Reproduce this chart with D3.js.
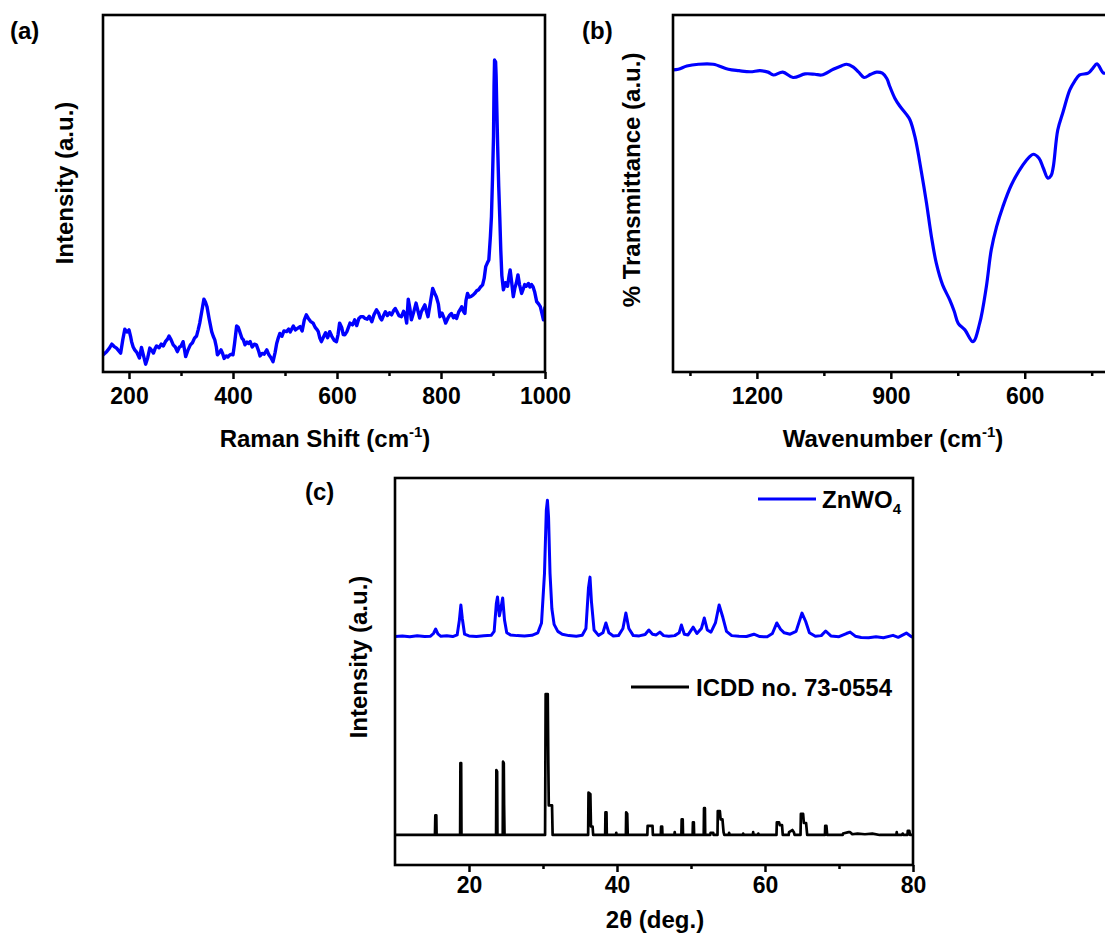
<!DOCTYPE html>
<html>
<head>
<meta charset="utf-8">
<script src="https://cdn.jsdelivr.net/npm/d3@7"></script>
<style>
  body { margin: 0; background: #fff; }
  svg { display: block; font-family: "Liberation Sans", Arial, sans-serif; font-weight: bold; }
  .tick text { font-size: 23px; font-weight: bold; fill: #000; font-family: "Liberation Sans", Arial, sans-serif; }
  .tick line { stroke: #000; stroke-width: 2.5; }
  .axis-label { font-size: 24px; font-weight: bold; fill: #000; }
  .panel-label { font-size: 24px; font-weight: bold; fill: #000; }
  .legend { font-size: 24px; font-weight: bold; fill: #000; }
</style>
</head>
<body>
<svg id="fig" width="1105" height="934"></svg>
<script>
// ---------- DATA ----------

// (a) Raman spectrum: [shift cm-1, intensity a.u.]
const ramanSpectrum = [
  [150,48],[157,57],[162,66],[167,78],[171,72],[176,67],[180,60],[184,53],[188,90],[192,120],
  [196,112],[200,118],[203,100],[205,85],[208,70],[211,62],[215,55],[220,39],[224,69],[228,45],
  [232,22],[236,40],[240,67],[244,60],[247,53],[250,65],[253,73],[258,68],[262,78],[266,73],
  [270,85],[274,92],[277,101],[281,90],[285,76],[289,70],[293,57],[297,70],[300,72],[304,85],
  [307,60],[309,43],[313,60],[318,76],[322,82],[326,95],[330,101],[333,118],[336,137],[340,170],
  [344,204],[347,196],[350,183],[354,150],[359,113],[362,100],[365,90],[368,70],[370,48],[374,55],
  [377,62],[380,52],[383,38],[387,45],[390,42],[394,48],[398,50],[400,48],[403,80],[407,129],
  [410,125],[413,113],[417,95],[420,90],[423,76],[427,84],[430,80],[433,85],[437,70],[441,78],
  [445,76],[449,60],[452,45],[456,52],[460,50],[465,62],[469,48],[473,40],[477,29],[481,55],
  [484,80],[487,95],[490,108],[494,100],[498,115],[503,113],[507,120],[510,112],[516,129],[520,118],
  [524,122],[529,127],[533,115],[537,145],[541,160],[545,150],[549,142],[554,137],[558,125],[562,118],
  [564,113],[567,95],[570,85],[574,98],[578,110],[582,96],[586,113],[590,100],[595,88],[599,85],
  [602,105],[605,137],[609,125],[612,105],[615,104],[619,113],[622,125],[625,137],[630,132],[634,146],
  [638,130],[642,150],[646,155],[650,155],[654,150],[658,148],[662,156],[667,141],[671,160],[676,174],
  [680,165],[683,152],[686,146],[690,160],[693,169],[697,158],[701,166],[705,160],[709,172],[712,178],
  [715,170],[719,158],[724,155],[728,170],[731,162],[734,137],[737,204],[740,180],[743,146],[747,165],
  [752,193],[755,175],[759,151],[762,168],[766,180],[769,188],[772,170],[775,155],[779,190],[784,234],
  [788,220],[791,211],[795,190],[798,155],[802,165],[806,150],[809,137],[813,150],[817,160],[820,164],
  [824,152],[827,158],[830,150],[834,168],[837,175],[840,183],[843,170],[846,164],[848,200],[851,220],
  [854,210],[858,212],[862,216],[866,222],[869,228],[872,230],[876,238],[880,244],[883,262],[886,295],
  [889,305],[892,314],[895,380],[897,435],[899,540],[901,660],[902,800],[903,874],[904,860],[905,869],
  [906,830],[907,760],[909,631],[911,520],[913,435],[915,340],[917,270],[920,230],[924,250],[928,240],
  [931,270],[933,286],[936,250],[939,211],[942,235],[945,250],[948,272],[951,245],[955,220],[958,232],
  [961,245],[964,240],[968,248],[971,238],[974,245],[977,239],[980,225],[984,197],[988,190],[991,183],
  [994,165],[997,146],[1000,183]
];
const ramanTicks = [200, 400, 600, 800, 1000];
const ramanMinorTicks = [300, 500, 700, 900];

// (b) FTIR spectrum: [wavenumber cm-1, transmittance a.u.]
const ftirSpectrum = [
  [1390,84.6],[1376,84.8],[1357,85.7],[1331,86.2],[1298,86.2],[1264,84.8],[1240,84.4],[1215,84.1],
  [1193,84.4],[1175,84.0],[1163,83.2],[1142,84.0],[1119,82.5],[1092,83.5],[1070,83.4],[1055,83.2],
  [1029,84.8],[1010,85.8],[999,86.2],[984,85.4],[972,84.0],[960,82.5],[945,83.4],[932,84.0],
  [919,83.7],[909,82.2],[902,79.9],[891,76.7],[880,74.5],[866,72.3],[857,70.6],[846,65.9],
  [831,55.7],[820,47.3],[809,37.9],[798,30.4],[784,24.4],[768,20.2],[758,17.0],[749,13.6],
  [734,11.8],[716,8.5],[701,13.6],[686,23.9],[675,34.2],[663,40.7],[649,46.3],[630,52.4],
  [604,58.0],[590,60.2],[581,61.0],[568,59.9],[558,57.0],[548,54.3],[541,55.0],[536,57.5],
  [526,67.8],[514,72.9],[499,79.0],[488,81.5],[477,83.2],[458,83.7],[448,85.0],[438,86.3],
  [423,83.7],[410,84.5]
];
const ftirTicks = [1200, 900, 600];
const ftirMinorTicks = [1350, 1050, 750, 450];

// (c) XRD of the sample: [2theta deg, intensity a.u.]
const xrdSample = [
  [10,0.3],[11,0.8],[12,0.2],[13,0.9],[14,0.4],[14.8,0.6],[15.2,2.5],[15.5,5.7],[15.8,2.2],[16.2,0.5],
  [17,0.9],[17.8,0.3],[18.4,1.5],[18.7,12],[18.9,22.7],[19.1,13],[19.4,2],[20,0.8],[21,0.4],[22,0.9],
  [23,1.2],[23.4,4],[23.7,24],[23.85,28.4],[24.1,15],[24.3,20],[24.55,27.7],[24.8,12],[25.1,3],[25.6,1.5],
  [26.5,1],[27.5,0.7],[28.5,1.2],[29.3,3],[29.8,10],[30.2,45],[30.45,90],[30.6,97],[30.75,85],[30.95,45],
  [31.2,20],[31.5,9],[32,4],[32.6,2],[33.5,1],[34.5,0.6],[35.3,1.2],[35.8,6],[36.15,35],[36.35,42.5],
  [36.55,25],[36.9,5],[37.5,1.2],[38.1,3],[38.5,10],[38.9,3],[39.5,0.8],[40.2,1],[40.8,6],[41.2,17],
  [41.6,6],[42.2,1],[43,0.8],[43.8,1.8],[44.3,5],[44.8,2],[45.3,1.5],[45.8,3.5],[46.3,1],[47,0.5],
  [47.8,1],[48.4,3],[48.7,8.5],[49.1,2],[49.6,1.5],[50.3,7],[50.8,2.5],[51.4,6],[51.8,13.5],[52.2,5],
  [52.7,3.5],[53.3,10],[53.8,22.7],[54.3,14],[54.8,4],[55.5,1],[56.5,0.5],[57.5,0.4],[58.5,2],[59.3,0.3],
  [60.3,0.2],[61.0,2.5],[61.6,10],[62.1,5.5],[62.6,3],[63.4,2],[64.2,4],[65.0,17],[65.5,11],[66.0,3],
  [66.8,0.5],[67.6,1],[68.2,4.3],[68.9,0.8],[70,0.2],[71,2.5],[71.5,3.5],[72.2,0.6],[73,-0.3],[74,-0.5],
  [75,0.2],[76,-0.5],[77.3,1.2],[78,-0.2],[79.1,2.8],[79.8,0.2],[80,-0.3]
];
const xrdSampleOffset = 140.4;

// (c) ICDD no. 73-0554 reference pattern: [2theta deg, relative intensity]
const icddPattern = [
  [10,0],[15.40,0],[15.45,14],[15.58,14],[15.62,0],
  [18.80,0],[18.84,51],[18.94,51],[18.98,0],
  [23.66,0],[23.70,46],[23.80,45],[23.84,0],
  [24.56,0],[24.60,52],[24.70,51],[24.74,22],[24.80,0],
  [30.28,0],[30.36,100],[30.64,100],[30.72,50],[30.78,21],[31.22,21],[31.30,0],
  [36.10,0],[36.15,30],[36.40,29],[36.48,6],[36.70,6],[36.78,0],
  [38.40,0],[38.44,16],[38.58,16],[38.62,0],
  [39.85,0],[39.90,1.5],[39.95,0],
  [41.20,0],[41.24,16],[41.38,15],[41.45,0],
  [44.10,0],[44.14,6.5],[44.80,6.5],[44.85,0],
  [45.92,0],[45.96,6],[46.10,6],[46.14,0],
  [47.75,0],[47.80,2],[47.85,0],
  [48.70,0],[48.74,11],[48.88,11],[48.92,0],
  [50.22,0],[50.26,9],[50.38,9],[50.42,0],
  [51.72,0],[51.76,19],[51.88,19],[51.92,0],
  [52.60,0],[52.65,1.5],[53.00,1.5],[53.05,0],
  [53.58,0],[53.62,17],[53.90,17],[54.00,11],[54.25,11],[54.40,2],[54.50,0],
  [55.10,0],[55.15,1.5],[55.25,0],
  [57.00,0],[57.05,1],[57.15,0],
  [58.35,0],[58.40,2],[58.45,0],
  [59.05,0],[59.10,1],[59.20,0],
  [61.55,0],[61.60,9],[61.90,9],[62.00,7],[62.30,7],[62.40,0],
  [63.20,0],[63.25,2],[63.70,3.5],[63.90,2],[64.00,0],
  [64.80,0],[64.85,15],[65.15,15],[65.25,8.5],[65.55,8.5],[65.70,0],
  [68.10,0],[68.14,6.5],[68.30,6.5],[68.40,0],
  [70.50,0],[70.55,1],[71.30,2],[71.50,2],[71.80,0.5],[72.50,1],[73.50,0.5],[74.50,1],[75.50,0],
  [77.75,0],[77.80,2],[77.85,0],
  [78.50,0],[78.60,1],[78.70,0],
  [79.25,0],[79.30,3],[79.50,3],[79.60,0],
  [80,0]
];
const xrdTicks = [20, 40, 60, 80];
const xrdMinorTicks = [30, 50, 70];

// ---------- DRAWING ----------
const svg = d3.select("#fig");
const blue = "#0000ff";

// helper: clip region + bottom axis (major and minor ticks) for one panel
function drawPanel(id, x, y, major, minor, padding) {
  const [x0, x1] = x.range();
  const [yb, yt] = y.range();
  const g = svg.append("g");

  svg.append("clipPath").attr("id", "clip-" + id)
    .append("rect")
    .attr("x", Math.min(x0, x1)).attr("y", yt)
    .attr("width", Math.abs(x1 - x0)).attr("height", yb - yt);

  // minor ticks
  g.append("g")
    .attr("transform", `translate(0,${yb})`)
    .call(d3.axisBottom(x).tickValues(minor).tickSize(4).tickFormat(""))
    .call(a => a.select(".domain").remove());

  // major ticks
  g.append("g")
    .attr("transform", `translate(0,${yb})`)
    .call(d3.axisBottom(x).tickValues(major).tickSize(7).tickPadding(padding).tickFormat(d3.format("d")))
    .call(a => a.select(".domain").remove());

  return g;
}

function drawFrame(x, y) {
  const [x0, x1] = x.range();
  const [yb, yt] = y.range();
  svg.append("rect")
    .attr("x", Math.min(x0, x1)).attr("y", yt)
    .attr("width", Math.abs(x1 - x0)).attr("height", yb - yt)
    .attr("fill", "none").attr("stroke", "#000").attr("stroke-width", 2.6);
}

// axis title with a superscript part, e.g. cm^-1
function addSuperTitle(cx, cy, pre, sup, post) {
  const t = svg.append("text").attr("class", "axis-label")
    .attr("x", cx).attr("y", cy).attr("text-anchor", "middle");
  t.append("tspan").text(pre);
  t.append("tspan").attr("font-size", 15).attr("dy", -10).text(sup);
  t.append("tspan").attr("dy", 10).text(post);
}

/* ===================== (a) RAMAN ===================== */
const xA = d3.scaleLinear().domain([150, 1000]).range([103, 545]);
const yA = d3.scaleLinear().domain([0, 1000]).range([372, 15]);
drawPanel("a", xA, yA, ramanTicks, ramanMinorTicks, 9);

svg.append("path")
  .datum(ramanSpectrum)
  .attr("clip-path", "url(#clip-a)")
  .attr("d", d3.line().x(d => xA(d[0])).y(d => yA(d[1])))
  .attr("fill", "none").attr("stroke", blue)
  .attr("stroke-width", 3.4).attr("stroke-linejoin", "round");
drawFrame(xA, yA);

svg.append("text").attr("class", "panel-label").attr("x", 10).attr("y", 39).text("(a)");
addSuperTitle(325, 447, "Raman Shift (cm", "-1", ")");
svg.append("text").attr("class", "axis-label")
  .attr("transform", "translate(73,183) rotate(-90)")
  .attr("text-anchor", "middle").text("Intensity (a.u.)");

/* ===================== (b) FTIR ===================== */
const xB = d3.scaleLinear().domain([1388, 400]).range([673, 1114]);
const yB = d3.scaleLinear().domain([0, 100]).range([372, 15]);
drawPanel("b", xB, yB, ftirTicks, ftirMinorTicks, 9);

svg.append("path")
  .datum(ftirSpectrum)
  .attr("clip-path", "url(#clip-b)")
  .attr("d", d3.line().x(d => xB(d[0])).y(d => yB(d[1])).curve(d3.curveCatmullRom.alpha(0.5)))
  .attr("fill", "none").attr("stroke", blue)
  .attr("stroke-width", 3.2).attr("stroke-linejoin", "round");
drawFrame(xB, yB);

svg.append("text").attr("class", "panel-label").attr("x", 582).attr("y", 39).text("(b)");
addSuperTitle(893, 447, "Wavenumber (cm", "-1", ")");
svg.append("text").attr("class", "axis-label")
  .attr("transform", "translate(640,180) rotate(-90)")
  .attr("text-anchor", "middle").text("% Transmittance (a.u.)");

/* ===================== (c) XRD ===================== */
const xC = d3.scaleLinear().domain([10, 80]).range([395, 913]);
const yC = d3.scaleLinear().domain([-21.3, 253.2]).range([865, 478]);
drawPanel("c", xC, yC, xrdTicks, xrdMinorTicks, 5);

const lineC = d3.line().x(d => xC(d[0])).y(d => yC(d[1]));

svg.append("path")
  .datum(icddPattern)
  .attr("clip-path", "url(#clip-c)")
  .attr("d", lineC)
  .attr("fill", "none").attr("stroke", "#000")
  .attr("stroke-width", 2.7).attr("stroke-linejoin", "round");

svg.append("path")
  .datum(xrdSample.map(d => [d[0], d[1] + xrdSampleOffset]))
  .attr("clip-path", "url(#clip-c)")
  .attr("d", lineC)
  .attr("fill", "none").attr("stroke", blue)
  .attr("stroke-width", 3).attr("stroke-linejoin", "round");
drawFrame(xC, yC);

// legend
svg.append("line").attr("x1", 758).attr("x2", 816).attr("y1", 499).attr("y2", 499)
  .attr("stroke", blue).attr("stroke-width", 3);
const lg1 = svg.append("text").attr("class", "legend").attr("x", 822).attr("y", 508);
lg1.append("tspan").text("ZnWO");
lg1.append("tspan").attr("font-size", 15).attr("dy", 6).text("4");

svg.append("line").attr("x1", 631).attr("x2", 689).attr("y1", 687).attr("y2", 687)
  .attr("stroke", "#000").attr("stroke-width", 3);
svg.append("text").attr("class", "legend").attr("x", 696).attr("y", 696)
  .attr("font-size", 23).text("ICDD no. 73-0554");

svg.append("text").attr("class", "panel-label").attr("x", 305).attr("y", 500).text("(c)");
svg.append("text").attr("class", "axis-label")
  .attr("x", 655).attr("y", 928).attr("text-anchor", "middle").text("2θ (deg.)");
svg.append("text").attr("class", "axis-label")
  .attr("transform", "translate(367,657) rotate(-90)")
  .attr("text-anchor", "middle").text("Intensity (a.u.)");
</script>
</body>
</html>
